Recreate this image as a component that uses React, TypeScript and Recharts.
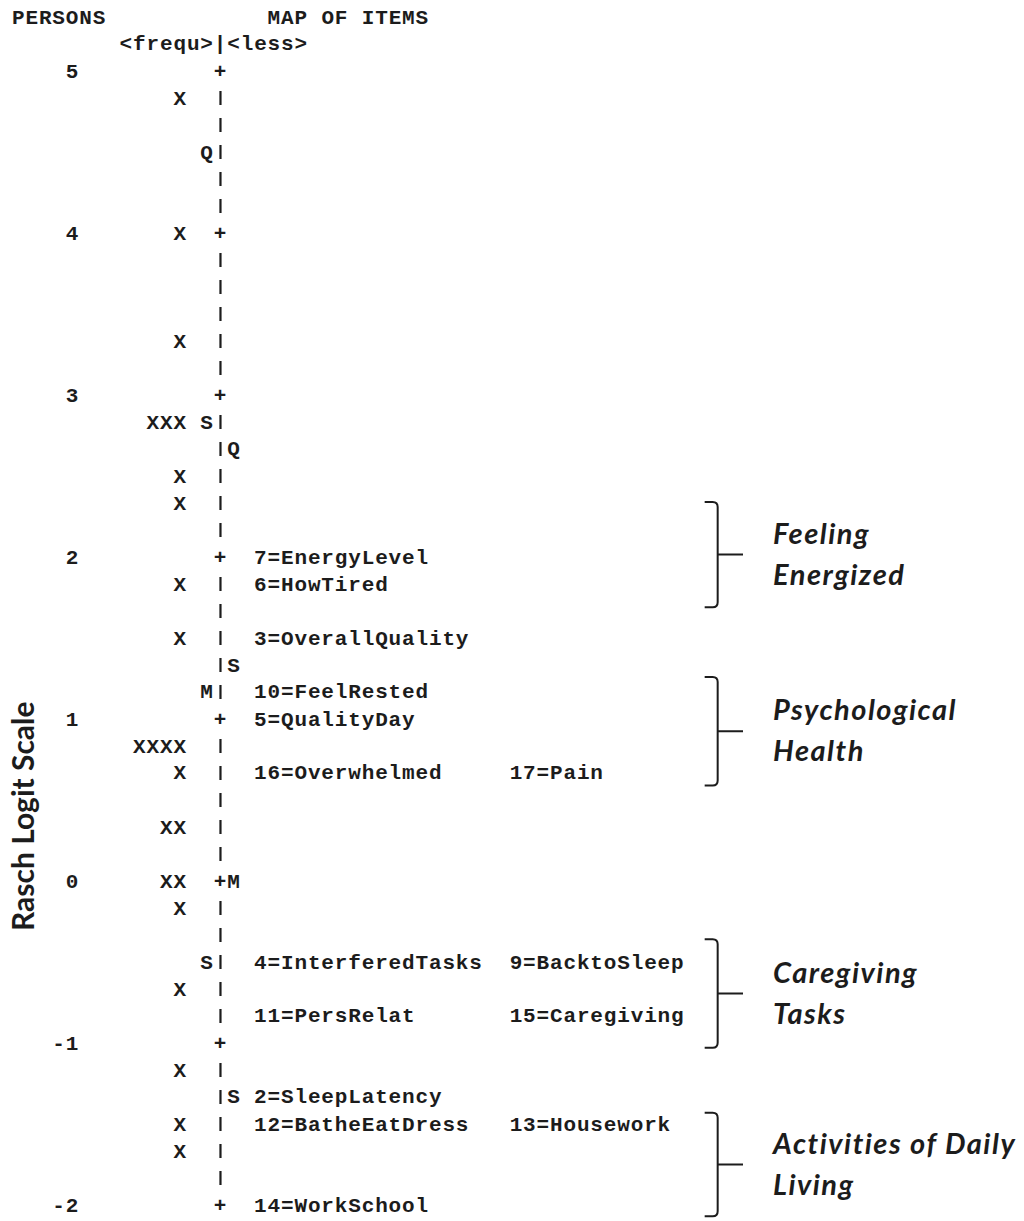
import { ReferenceArea, ReferenceDot, Scatter, ScatterChart, XAxis, YAxis } from "recharts";

// Wright map (persons / items) on the Rasch logit scale

const logitTicks = [5, 4, 3, 2, 1, 0, -1, -2];

const personLogits = [4.83, 4.0, 3.33, 2.83, 2.5, 2.33, 1.83, 1.5, 0.83, 0.67, 0.33, 0.0, -0.17, -0.67, -1.17, -1.5, -1.67];
const personMarks = ["X", "X", "X", "XXX", "X", "X", "X", "X", "XXXX", "X", "XX", "XX", "X", "X", "X", "X", "X"];

const personStatLogits = [4.5, 2.83, 1.17, -0.5];
const personStatMarks = ["Q", "S", "M", "S"];
const itemStatLogits = [2.67, 1.33, 0.0, -1.33];
const itemStatMarks = ["Q", "S", "M", "S"];

const itemLogitsA = [2.0, 1.83, 1.5, 1.17, 1.0, 0.67, -0.5, -0.83, -1.33, -1.5, -2.0];
const itemLabelsA = [
  "7=EnergyLevel",
  "6=HowTired",
  "3=OverallQuality",
  "10=FeelRested",
  "5=QualityDay",
  "16=Overwhelmed",
  "4=InterferedTasks",
  "11=PersRelat",
  "2=SleepLatency",
  "12=BatheEatDress",
  "14=WorkSchool"
];
const itemLogitsB = [0.67, -0.5, -0.83, -1.5];
const itemLabelsB = ["17=Pain", "9=BacktoSleep", "15=Caregiving", "13=Housework"];

const groupNames = [
  ["Feeling", "Energized"],
  ["Psychological", "Health"],
  ["Caregiving", "Tasks"],
  ["Activities of Daily", "Living"]
];
const groupTop = [2.34, 1.26, -0.36, -1.43];
const groupBottom = [1.69, 0.59, -1.03, -2.07];

const headerLines = ["PERSONS            MAP OF ITEMS", "        <frequ>|<less>"];
const headerLogits = [5.33, 5.17];

// layout: one x unit = one character column of the printout
const CHART_W = 1024;
const CHART_H = 1221;
const CHAR_W = 13.45;
const margin = { top: 17, right: 0, bottom: 16, left: 12 };
const xMax = (CHART_W - margin.left - margin.right) / CHAR_W;

const NUM_END = 5;
const PERSON_END = 13;
const PERSON_STAT_COL = 14;
const SPINE_COL = 15;
const ITEM_STAT_COL = 16;
const ITEM_COL_A = 18;
const ITEM_COL_B = 37;

const INK = "#1c1c1c";
const MONO_SIZE = 21;
const mono = {
  fontFamily: "'Liberation Mono', 'Courier New', monospace",
  fontSize: MONO_SIZE,
  fontWeight: 700,
  letterSpacing: CHAR_W - MONO_SIZE * 0.6,
  whiteSpace: "pre" as const
};
const baseShift = MONO_SIZE * 0.33;

const cells = (logits: number[], texts: string[], col: (t: string) => number) =>
  logits.map((logit, i) => ({ col: col(texts[i]), logit, text: texts[i] }));

const headerCells = cells(headerLogits, headerLines, () => 0);
const tickCells = logitTicks.map((v) => ({ col: NUM_END - String(v).length, logit: v, text: String(v) }));
const personCells = cells(personLogits, personMarks, (t) => PERSON_END - t.length);
const personStatCells = cells(personStatLogits, personStatMarks, () => PERSON_STAT_COL);
const itemStatCells = cells(itemStatLogits, itemStatMarks, () => ITEM_STAT_COL);
const itemCellsA = cells(itemLogitsA, itemLabelsA, () => ITEM_COL_A);
const itemCellsB = cells(itemLogitsB, itemLabelsB, () => ITEM_COL_B);

// axis spine: "+" on whole logits, "|" on every sixth in between
const spineCells = Array.from({ length: 43 }, (_, i) => ({
  col: SPINE_COL,
  logit: 5 - i / 6,
  text: i % 6 === 0 ? "+" : "|"
}));

function GridText(props: any) {
  const { cx, cy, payload } = props;
  return (
    <text x={cx} y={cy + baseShift} fill={INK} style={mono}>
      {payload.text}
    </text>
  );
}

function SpineMark(props: any) {
  const { cx, cy, payload } = props;
  if (payload.text === "|") {
    return <rect x={cx + CHAR_W / 2 - 1.1} y={cy - 7} width={2.2} height={14} fill={INK} />;
  }
  return (
    <text x={cx} y={cy + baseShift} fill={INK} style={mono}>
      +
    </text>
  );
}

function Bracket(props: any, lines: string[]) {
  const { x, y, width, height } = props;
  const vx = x + 13;
  const r = 5;
  const mid = y + height / 2;
  const tx = x + width + 30;
  return (
    <g>
      <path
        d={`M${x},${y} H${vx - r} Q${vx},${y} ${vx},${y + r} V${y + height - r} Q${vx},${y + height} ${vx - r},${y + height} H${x} M${vx},${mid} H${x + width}`}
        fill="none"
        stroke={INK}
        strokeWidth={2}
      />
      <text
        x={tx}
        fill={INK}
        style={{
          fontFamily: "Lato, 'Open Sans', sans-serif",
          fontSize: 29,
          fontWeight: 700,
          fontStyle: "italic",
          letterSpacing: 1.5
        }}
      >
        <tspan x={tx} y={mid - 11}>
          {lines[0]}
        </tspan>
        <tspan x={tx} y={mid + 30}>
          {lines[1]}
        </tspan>
      </text>
    </g>
  );
}

function ScaleTitle(props: any) {
  const { cx, cy } = props;
  return (
    <text
      x={cx}
      y={cy}
      transform={`rotate(-90 ${cx} ${cy})`}
      textAnchor="middle"
      fill={INK}
      style={{ fontFamily: "Lato, 'Open Sans', sans-serif", fontSize: 30, fontWeight: 700 }}
    >
      Rasch Logit Scale
    </text>
  );
}

export default function App() {
  return (
    <div style={{ width: CHART_W, height: CHART_H, background: "#fff" }}>
      <style>{"body{margin:0;background:#fff}"}</style>
      <ScatterChart width={CHART_W} height={CHART_H} margin={margin}>
        <XAxis type="number" dataKey="col" domain={[0, xMax]} hide />
        <YAxis type="number" dataKey="logit" domain={[-2, 16 / 3]} width={0} hide />
        <Scatter data={headerCells} shape={GridText} isAnimationActive={false} />
        <Scatter data={tickCells} shape={GridText} isAnimationActive={false} />
        <Scatter data={spineCells} shape={SpineMark} isAnimationActive={false} />
        <Scatter data={personCells} shape={GridText} isAnimationActive={false} />
        <Scatter data={personStatCells} shape={GridText} isAnimationActive={false} />
        <Scatter data={itemStatCells} shape={GridText} isAnimationActive={false} />
        <Scatter data={itemCellsA} shape={GridText} isAnimationActive={false} />
        <Scatter data={itemCellsB} shape={GridText} isAnimationActive={false} />
        {groupNames.map((lines, i) => (
          <ReferenceArea
            key={lines[0]}
            x1={51.5}
            x2={54.35}
            y1={groupTop[i]}
            y2={groupBottom[i]}
            ifOverflow="visible"
            shape={(p: any) => Bracket(p, lines)}
          />
        ))}
        <ReferenceDot x={1.6} y={0.4} r={0} ifOverflow="visible" shape={ScaleTitle} />
      </ScatterChart>
    </div>
  );
}
